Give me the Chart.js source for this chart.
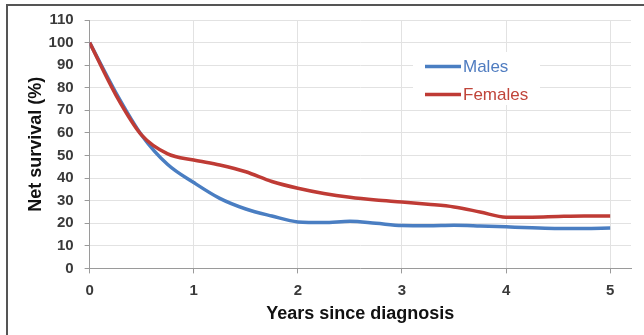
<!DOCTYPE html>
<html><head><meta charset="utf-8">
<script src="https://cdn.jsdelivr.net/npm/chart.js@4"></script>
<style>html,body{margin:0;padding:0;background:#fff}#w{position:relative;width:644px;height:335px}</style>
</head><body><div id="w"><canvas id="c" width="644" height="335"></canvas></div>
<script>
const years = [0,0.25,0.5,0.75,1,1.25,1.5,1.75,2,2.25,2.5,2.75,3,3.25,3.5,3.75,4,4.25,4.5,4.75,5];
const males = [100,78,59,46,38,31,26.3,23.2,20.6,20.3,20.9,20,19,18.9,19.1,18.8,18.4,18,17.7,17.7,17.9];
const females = [100,77,59,50.7,48,45.8,42.8,38.5,35.5,33.2,31.5,30.3,29.4,28.4,27.2,25,22.7,22.7,23,23.2,23.2];
const xTickValues = [0,1,2,3,4,5];
const seriesNames = ['Males','Females'];
const xTitle = 'Years since diagnosis';
const yTitle = 'Net survival (%)';

const blue = '#4a7ec2', red = '#bf3b35';
const tickFont = {family:"'Liberation Sans', Arial, sans-serif", size:15, weight:'bold'};
const titleFont = {family:"'Liberation Sans', Arial, sans-serif", size:18, weight:'bold'};

const framePlugin = {
  id:'frame',
  beforeDraw(chart){
    const ctx = chart.ctx;
    ctx.save();
    ctx.fillStyle='#fff'; ctx.fillRect(0,0,chart.width,chart.height);
    ctx.strokeStyle='#555'; ctx.lineWidth=2;
    ctx.beginPath(); ctx.moveTo(7,chart.height); ctx.lineTo(7,5); ctx.lineTo(chart.width,5); ctx.stroke();
    ctx.restore();
  }
};
const legendPlugin = {
  id:'lg',
  beforeDatasetsDraw(chart){
    const ctx = chart.ctx;
    ctx.save();
    ctx.fillStyle='#fff'; ctx.fillRect(413,52,127,53);
    const items=[{c:blue,t:'#4f7cc0',y:66.5},{c:red,t:'#c0453a',y:94.5}];
    ctx.font = "17px 'Liberation Sans', Arial, sans-serif";
    ctx.textBaseline='middle';
    items.forEach((it,i)=>{
      ctx.strokeStyle=it.c; ctx.lineWidth=3.5;
      ctx.beginPath(); ctx.moveTo(425,it.y); ctx.lineTo(461,it.y); ctx.stroke();
      ctx.fillStyle=it.t; ctx.fillText(seriesNames[i],463,it.y+0.5);
    });
    ctx.restore();
  }
};

new Chart(document.getElementById('c'),{
  type:'line',
  data:{datasets:[
    {label:seriesNames[0],data:years.map((x,i)=>({x,y:males[i]})),borderColor:blue,borderWidth:3.5,pointRadius:0,cubicInterpolationMode:'monotone',order:1},
    {label:seriesNames[1],data:years.map((x,i)=>({x,y:females[i]})),borderColor:red,borderWidth:3.5,pointRadius:0,cubicInterpolationMode:'monotone',order:0}
  ]},
  options:{
    responsive:false, animation:false,
    layout:{padding:{left:21,right:13,top:19,bottom:6}},
    plugins:{legend:{display:false},tooltip:{enabled:false}},
    scales:{
      x:{type:'linear',min:0,max:5.2,
        afterBuildTicks(s){s.ticks=xTickValues.map(v=>({value:v}));},
        ticks:{font:tickFont,color:'#3a3a3a',padding:8,autoSkip:false},
        grid:{color:'#e2e2e2',tickLength:5,tickColor:'#9a9a9a'},
        border:{color:'#9a9a9a'},
        title:{display:true,text:xTitle,font:titleFont,color:'#111',padding:{top:-4,bottom:4}}},
      y:{min:0,max:110,
        ticks:{stepSize:10,font:tickFont,color:'#3a3a3a',padding:11},
        grid:{color:'#e2e2e2',tickLength:5,tickColor:'#9a9a9a'},
        border:{color:'#9a9a9a'},
        title:{display:true,text:yTitle,font:titleFont,color:'#111',padding:{top:4,bottom:-9}}}
    }
  },
  plugins:[framePlugin,legendPlugin]
});
</script></body></html>
